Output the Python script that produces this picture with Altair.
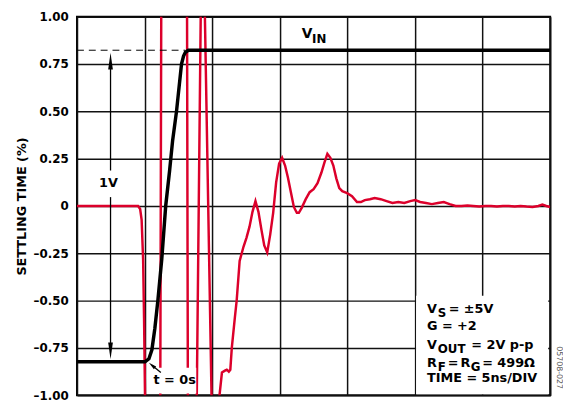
import altair as alt
import pandas as pd

FONT = "DejaVu Sans"
RED = "#dc002b"

# ---- data (time in ns, value in %) ----
grid_t = [0, 5, 10, 15, 20, 25, 30, 35]
y_ticks = [-1.0, -0.75, -0.5, -0.25, 0, 0.25, 0.5, 0.75, 1.0]

vin_t = [0, 5.03, 5.32, 5.54, 5.76, 5.98, 6.27, 6.56, 6.85, 7.07, 7.36, 7.73, 7.88, 8.02, 8.24, 35]
vin_v = [-0.823, -0.823, -0.807, -0.760, -0.646, -0.5, -0.281, 0, 0.1875, 0.344, 0.5, 0.75, 0.792,
         0.8125, 0.823, 0.823]

out_t = [0, 4.375, 4.52, 4.67, 4.78, 4.89, 4.96, 5.03, 5.10, 5.6, 6.11, 6.16, 6.23, 6.29, 7.0,
         8.09, 8.14, 8.20, 8.24, 8.5, 8.82, 8.86, 9.15, 9.30, 9.46, 9.95, 10.1, 10.3, 10.54,
         10.72, 10.94, 11.08, 11.23, 11.34, 11.45, 11.67, 11.81, 12.03, 12.32, 12.54, 12.76, 12.98,
         13.2, 13.42, 13.64, 13.85, 14.07, 14.29, 14.51, 14.73, 14.95, 15.17, 15.39, 15.6, 15.82,
         16.04, 16.26, 16.41, 16.62, 16.92, 17.21, 17.5, 17.79, 18.08, 18.3, 18.52, 18.74, 18.96,
         19.18, 19.4, 19.62, 19.98, 20.34, 20.71, 21.0, 21.29, 21.66, 22.02, 22.46, 22.9, 23.33,
         23.77, 24.21, 24.65, 25.01, 25.38, 25.81, 26.25, 26.69, 27.13, 27.56, 28.0, 28.44, 28.88,
         29.31, 29.75, 30.19, 30.63, 31.06, 31.5, 31.94, 32.38, 32.81, 33.25, 33.69, 34.13, 34.42,
         34.71, 35.0]
out_v = [0, 0, 0, -0.016, -0.073, -0.281, -0.594, -1.0, -1.3, -1.4, -1.4, -1.0, 1.0, 1.4, 1.4,
         1.4, 1.0, -1.0, -1.4, -1.4, -1.4, -1.0, 1.0, 1.3, 1.0, -1.0, -1.3, -1.35, -1.0,
         -0.88, -0.87, -0.865, -0.875, -0.865, -0.75, -0.594, -0.5, -0.29, -0.214, -0.167, -0.109,
         -0.031, 0.026, -0.031, -0.125, -0.208, -0.245, -0.151, -0.036, 0.125, 0.224, 0.255, 0.214,
         0.151, 0.073, -0.005, -0.036, -0.036, -0.01, 0.036, 0.073, 0.089, 0.12, 0.177, 0.229, 0.276,
         0.255, 0.214, 0.146, 0.094, 0.078, 0.068, 0.052, 0.021, 0.021, 0.031, 0.036, 0.042, 0.036,
         0.026, 0.016, 0.021, 0.016, 0.026, 0.031, 0.021, 0.016, 0.01, 0.016, 0.021, 0.01, 0, 0,
         0.003, 0, -0.003, 0, 0, -0.003, 0, 0, -0.003, 0, -0.003, -0.005, 0, 0.008, 0, -0.005]

vin_level = 0.823

x_scale = alt.Scale(domain=[0, 35], nice=False, zero=False)
y_scale = alt.Scale(domain=[-1, 1], nice=False, zero=False)

x_axis = alt.Axis(values=grid_t, labels=False, ticks=False, domain=False, grid=True,
                  gridColor="#111111", gridWidth=1.5, gridOpacity=1, title=None)
y_axis = alt.Axis(values=y_ticks, ticks=False, domain=False, grid=True, gridColor="#111111",
                  gridWidth=1.5, gridOpacity=1, labelOverlap=False,
                  labelExpr="datum.value == 0 ? '0' : (datum.value < 0 ? '\u2013' + format(-datum.value, '.2f') : format(datum.value, '.2f'))",
                  labelFont=FONT, labelFontSize=12, labelFontWeight="bold", labelColor="black",
                  labelPadding=9, title="SETTLING TIME (%)", titleFont=FONT, titleFontSize=13,
                  titleFontWeight="bold", titleColor="black", titlePadding=5)

X = alt.X("t:Q", scale=x_scale, axis=x_axis)
Y = alt.Y("v:Q", scale=y_scale, axis=y_axis)

out_df = pd.DataFrame({"t": out_t, "v": out_v})
vin_df = pd.DataFrame({"t": vin_t, "v": vin_v})

red = alt.Chart(out_df).mark_line(color=RED, strokeWidth=2.5, clip=True).encode(x=X, y=Y, order="t:Q")
black = alt.Chart(vin_df).mark_line(color="black", strokeWidth=3.5, clip=True).encode(x=X, y=Y, order="t:Q")

dash = alt.Chart(pd.DataFrame({"t": [0], "t2": [8.0], "v": [vin_level]})).mark_rule(
    color="black", strokeWidth=1, strokeDash=[7, 5]).encode(x=X, x2="t2:Q", y=Y)

# 1V arrow
shaft = alt.Chart(pd.DataFrame({"t": [2.48, 2.48], "v": [0.73, 0.047], "v2": [0.1875, -0.724]})).mark_rule(
    color="black", strokeWidth=1.3).encode(x=X, y=Y, y2="v2:Q")
head_up = alt.Chart(pd.DataFrame({"t": [2.48], "v": [0.81]})).mark_point(
    shape="M0,-1L0.28,1L-0.28,1Z", size=289, filled=True, color="black", opacity=1,
    yOffset=8.5).encode(x=X, y=Y)
head_dn = alt.Chart(pd.DataFrame({"t": [2.48], "v": [-0.81]})).mark_point(
    shape="M0,1L0.28,-1L-0.28,-1Z", size=289, filled=True, color="black", opacity=1,
    yOffset=-8.5).encode(x=X, y=Y)

# white boxes behind text
boxes = alt.Chart(pd.DataFrame({"t": [5.61, 25.08], "t2": [8.82, 34.85],
                                "v": [-0.854, -0.474], "v2": [-0.99, -0.995]})).mark_rect(
    color="white", opacity=1).encode(x=X, x2="t2:Q", y=Y, y2="v2:Q")

# t = 0s arrow
t0_shaft = alt.Chart(pd.DataFrame({"t": [6.2], "v": [-0.880], "t2": [5.54], "v2": [-0.841]})).mark_rule(
    color="black", strokeWidth=1.3).encode(x=X, y=Y, x2="t2:Q", y2="v2:Q")
t0_head = alt.Chart(pd.DataFrame({"t": [5.32], "v": [-0.828]})).mark_point(
    shape="M0,-1L0.45,1L-0.45,1Z", size=64, filled=True, color="black", opacity=1, angle=310,
    xOffset=3.1, yOffset=2.6).encode(x=X, y=Y)


def label(t, v, text, size=13, dx=0, dy=0, align="left", angle=0, color="black", weight="bold"):
    df = pd.DataFrame({"t": [t], "v": [v], "s": [text]})
    return alt.Chart(df).mark_text(font=FONT, fontSize=size, fontWeight=weight, align=align,
                                   baseline="middle", dx=dx, dy=dy, angle=angle,
                                   color=color).encode(x=X, y=Y, text="s:N")


px = 25.886
r1, r2, r3, r4, r5 = -0.547, -0.635, -0.734, -0.828, -0.911
texts = [
    label(16.625, 0.906, "V", size=14),
    label(16.625, 0.906, "IN", size=12, dx=10.5, dy=5),
    label(2.33, 0.12, "1V", size=13, align="center"),
    label(7.22, -0.92, "t = 0s", size=13, align="center"),
    label(px, r1, "V"),
    label(px, r1, "S", size=12, dx=11, dy=4),
    label(px, r1, "= \u00b15V", dx=22),
    label(px, r2, "G = +2"),
    label(px, r3, "V"),
    label(px, r3, "OUT", size=12, dx=11, dy=4),
    label(px, r3, "= 2V p-p", dx=45),
    label(px, r4, "R"),
    label(px, r4, "F", size=12, dx=11, dy=4),
    label(px, r4, "=", dx=21),
    label(px, r4, "R", dx=34),
    label(px, r4, "G", size=12, dx=44.5, dy=4),
    label(px, r4, "= 499\u03a9", dx=56),
    label(px, r5, "TIME = 5ns/DIV"),
    label(35.66, -0.854, "05708-027", size=8, align="center", angle=90, color="#555555", weight="normal"),
]

chart = alt.layer(red, black, dash, shaft, head_up, head_dn, boxes, t0_shaft, t0_head, *texts).properties(
    width=480, height=384,
    autosize=alt.AutoSizeParams(type="none"),
    padding={"left": 70, "top": 6, "right": 13, "bottom": 6},
).configure_view(stroke="black", strokeWidth=2)

chart.save("out.html", embed_options={"renderer": "svg", "actions": False})
